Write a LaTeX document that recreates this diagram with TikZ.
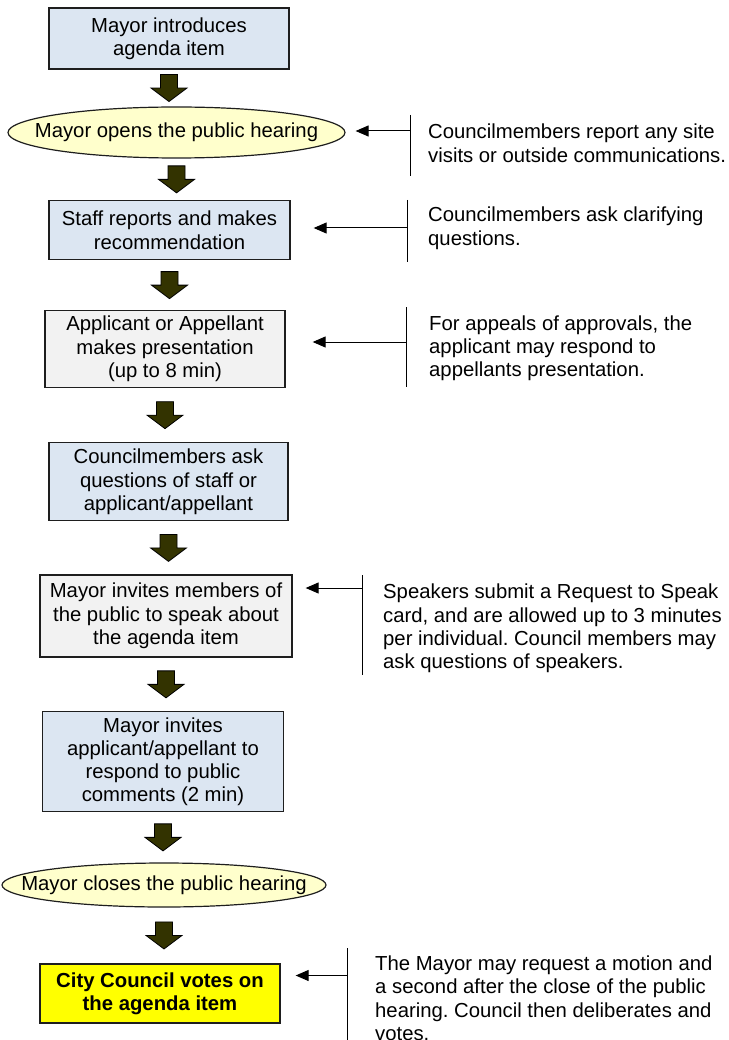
\documentclass[tikz,border=0pt]{standalone}
\usepackage{fontspec}
\setmainfont{Liberation Sans}
\usepackage{tikz}
\usetikzlibrary{arrows.meta, positioning, shapes.geometric, calc}
\frenchspacing

\definecolor{stepblue}{RGB}{220,230,242}
\definecolor{stepgray}{RGB}{242,242,242}
\definecolor{hearingyellow}{RGB}{255,255,204}
\definecolor{voteyellow}{RGB}{255,255,0}
\definecolor{arrowolive}{RGB}{51,51,0}
\definecolor{edgedark}{RGB}{30,30,30}

% block arrow between two steps of the flow
\newcommand{\flowarrow}[2]{%
  \coordinate (#1-#2) at ($(#1.south)!.5!(#2.north)$);
  \pic at (#1.south |- #1-#2) {downarrow};}

\begin{document}
\begin{tikzpicture}[x=1pt, y=-1pt,
    every node/.style={font=\fontsize{20.3}{23.3}\selectfont, inner sep=0pt},
    box/.style={draw=edgedark, line width=1.3pt, rectangle, align=center},
    bluebox/.style={box, fill=stepblue},
    graybox/.style={box, fill=stepgray},
    votebox/.style={box, fill=voteyellow, font=\fontsize{20.3}{23.3}\selectfont\bfseries},
    hearing/.style={draw=edgedark, line width=1.2pt, ellipse, fill=hearingyellow},
    note/.style={anchor=base west, align=left}, % base = last line
    bar/.style={line width=1pt},
    feed/.style={line width=1pt, -{Triangle[length=13pt,width=11pt]}},
    pics/downarrow/.style={code={
      \draw[fill=arrowolive, line width=0.8pt] (-8.5,-13.5) -- (8.5,-13.5) -- (8.5,0) -- (18,0)
        -- (0,13.5) -- (-18,0) -- (-8.5,0) -- cycle;}}
  ]
  \useasboundingbox (0,0) rectangle (728,1040);

  % main flow
  \node[bluebox, minimum width=240pt, minimum height=61pt] (intro) at (169,38.5) {Mayor introduces\\agenda item};
  \node[hearing, minimum width=337pt, minimum height=51pt] (open) at (176.5,132.5) {\makebox[0pt]{Mayor opens the public hearing}};
  \node[bluebox, minimum width=241pt, minimum height=59pt] (staff) at (169.5,230.3) {Staff reports and makes\\recommendation};
  \node[graybox, minimum width=240pt, minimum height=77pt] (present) at (165,349) {Applicant or Appellant\\makes presentation\\(up to 8 min)};
  \node[bluebox, minimum width=239pt, minimum height=78pt] (ask) at (168.5,481.8) {Councilmembers ask\\questions of staff or\\applicant/appellant};
  \node[graybox, minimum width=252pt, minimum height=82pt] (public) at (166,616) {Mayor invites members of\\the public to speak about\\the agenda item};
  \node[bluebox, minimum width=241pt, minimum height=100pt] (respond) at (163,761.7) {Mayor invites\\applicant/appellant to\\respond to public\\comments (2 min)};
  \node[hearing, minimum width=324pt, minimum height=44pt] (close) at (164,885) {\makebox[0pt]{Mayor closes the public hearing}};
  \node[votebox, minimum width=240pt, minimum height=59pt] (vote) at (160,993.5) {City Council votes on\\the agenda item};

  \flowarrow{intro}{open}
  \flowarrow{open}{staff}
  \flowarrow{staff}{present}
  \flowarrow{present}{ask}
  \flowarrow{ask}{public}
  \flowarrow{public}{respond}
  \flowarrow{respond}{close}
  \flowarrow{close}{vote}

  % side notes
  \node[note] (visits) at (428,162.3) {Councilmembers report any site\\visits or outside communications.};
  \draw[bar] (410,115) -- (410,176);
  \coordinate (visits-in) at (410,131);
  \draw[feed, shorten >=10pt] (visits-in) -- (visits-in -| open.east);

  \node[note] (clarify) at (428,245.3) {Councilmembers ask clarifying\\questions.};
  \draw[bar] (407,200) -- (407,262);
  \coordinate (clarify-in) at (407,228);
  \draw[feed, shorten >=23pt] (clarify-in) -- (clarify-in -| staff.east);

  \node[note] (appeals) at (429,376.9) {For appeals of approvals, the\\applicant may respond to\\appellants presentation.};
  \draw[bar] (406,307) -- (406,387);
  \coordinate (appeals-in) at (406,342);
  \draw[feed, shorten >=27pt] (appeals-in) -- (appeals-in -| present.east);

  \node[note] (speakers) at (383,668.6) {Speakers submit a Request to Speak\\card, and are allowed up to 3 minutes\\per individual. Council members may\\ask questions of speakers.};
  \draw[bar] (362,575) -- (362,675);
  \coordinate (speakers-in) at (362,588);
  \draw[feed, shorten >=13pt] (speakers-in) -- (speakers-in -| public.east);

  \node[note] (motion) at (375,1040.4) {The Mayor may request a motion and\\a second after the close of the public\\hearing. Council then deliberates and\\votes.};
  \draw[bar] (347,948) -- (347,1045);
  \coordinate (motion-in) at (347,975.5);
  \draw[feed, shorten >=15pt] (motion-in) -- (motion-in -| vote.east);
\end{tikzpicture}
\end{document}
